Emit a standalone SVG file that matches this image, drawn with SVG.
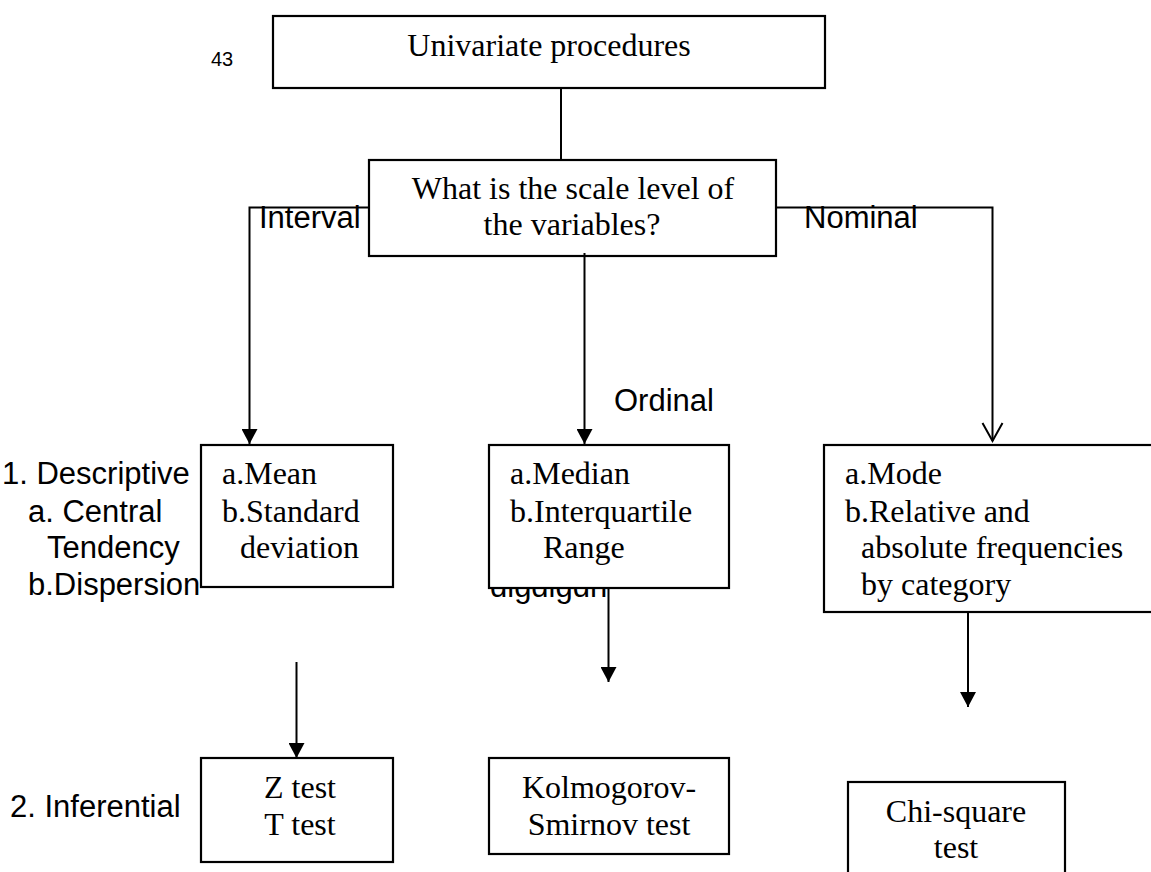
<svg xmlns="http://www.w3.org/2000/svg" width="1151" height="872" viewBox="0 0 1151 872">
  <style>
    .box { fill: #ffffff; stroke: #000000; stroke-width: 2.2; }
    .serif { font-family: "Liberation Serif", "Times New Roman", serif; font-size: 32px; fill: #000000; }
    .sans { font-family: "Liberation Sans", Arial, sans-serif; font-size: 31px; fill: #000000; }
    .conn { fill: none; stroke: #000000; stroke-width: 2; }
  </style>
  <defs>
    <marker id="arrow-solid" markerUnits="userSpaceOnUse" markerWidth="16" markerHeight="16" refX="15" refY="8" orient="auto">
      <path d="M0,0 L15,8 L0,16 Z" fill="#000000"/>
    </marker>
    <marker id="arrow-open" markerUnits="userSpaceOnUse" markerWidth="22" markerHeight="24" refX="19" refY="11" orient="auto">
      <path d="M1,1 L19,11 L1,21" fill="none" stroke="#000000" stroke-width="2"/>
    </marker>
  </defs>

  <!-- page number -->
  <text id="page-number" x="211" y="66" font-family="Liberation Sans, Arial, sans-serif" font-size="20">43</text>

  <!-- side labels -->
  <g id="label-descriptive" class="sans">
    <text x="2" y="484">1. Descriptive</text>
    <text x="28" y="522">a. Central</text>
    <text x="47" y="558">Tendency</text>
    <text x="28" y="595">b.Dispersion</text>
  </g>
  <text id="label-inferential" class="sans" x="10" y="817">2. Inferential</text>

  <!-- stray text partly hidden under the ordinal box -->
  <text id="stray-text" class="sans" x="490" y="597">digdigdn</text>

  <!-- top node -->
  <g id="node-univariate">
    <rect class="box" x="273" y="16" width="552" height="72"/>
    <text class="serif" x="549" y="56" text-anchor="middle">Univariate procedures</text>
  </g>

  <!-- question node -->
  <g id="node-scale">
    <rect class="box" x="369" y="160" width="407" height="96"/>
    <text class="serif" x="573" y="199" text-anchor="middle">What is the scale level of</text>
    <text class="serif" x="572" y="235" text-anchor="middle">the variables?</text>
  </g>

  <!-- interval descriptive -->
  <g id="node-interval-desc">
    <rect class="box" x="201" y="445" width="192" height="142"/>
    <text class="serif" x="222" y="484">a.Mean</text>
    <text class="serif" x="222" y="522">b.Standard</text>
    <text class="serif" x="240" y="558">deviation</text>
  </g>

  <!-- ordinal descriptive -->
  <g id="node-ordinal-desc">
    <rect class="box" x="489" y="445" width="240" height="143"/>
    <text class="serif" x="510" y="484">a.Median</text>
    <text class="serif" x="510" y="522">b.Interquartile</text>
    <text class="serif" x="543" y="558">Range</text>
  </g>

  <!-- nominal descriptive -->
  <g id="node-nominal-desc">
    <rect class="box" x="824" y="445" width="340" height="167"/>
    <text class="serif" x="845" y="484">a.Mode</text>
    <text class="serif" x="845" y="522">b.Relative and</text>
    <text class="serif" x="861" y="558">absolute frequencies</text>
    <text class="serif" x="861" y="595">by category</text>
  </g>

  <!-- inferential tests -->
  <g id="node-interval-test">
    <rect class="box" x="201" y="758" width="192" height="104"/>
    <text class="serif" x="300" y="798" text-anchor="middle">Z test</text>
    <text class="serif" x="300" y="835" text-anchor="middle">T test</text>
  </g>

  <g id="node-ordinal-test">
    <rect class="box" x="489" y="758" width="240" height="96"/>
    <text class="serif" x="609" y="798" text-anchor="middle">Kolmogorov-</text>
    <text class="serif" x="609" y="835" text-anchor="middle">Smirnov test</text>
  </g>

  <g id="node-nominal-test">
    <rect class="box" x="848" y="782" width="217" height="110"/>
    <text class="serif" x="956" y="822" text-anchor="middle">Chi-square</text>
    <text class="serif" x="956" y="858" text-anchor="middle">test</text>
  </g>

  <!-- connectors -->
  <g id="connectors">
    <line class="conn" x1="561" y1="88" x2="561" y2="160"/>
    <polyline class="conn" points="369,207.5 249.5,207.5 249.5,444" marker-end="url(#arrow-solid)"/>
    <line class="conn" x1="584.5" y1="253" x2="584.5" y2="444" marker-end="url(#arrow-solid)"/>
    <polyline class="conn" points="776,207.5 992.5,207.5 992.5,441" marker-end="url(#arrow-open)"/>
    <line class="conn" x1="296.5" y1="662" x2="296.5" y2="758" marker-end="url(#arrow-solid)"/>
    <line class="conn" x1="608.5" y1="588" x2="608.5" y2="682" marker-end="url(#arrow-solid)"/>
    <line class="conn" x1="968" y1="612" x2="968" y2="707" marker-end="url(#arrow-solid)"/>
  </g>

  <!-- branch labels -->
  <text id="label-interval" class="sans" x="259" y="228">Interval</text>
  <text id="label-ordinal" class="sans" x="614" y="411">Ordinal</text>
  <text id="label-nominal" class="sans" x="804" y="228">Nominal</text>
</svg>
